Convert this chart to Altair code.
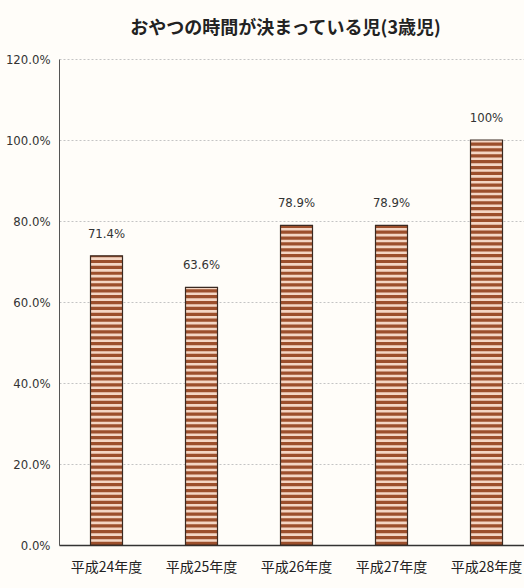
import altair as alt
import pandas as pd
import numpy as np

categories = ["平成24年度", "平成25年度", "平成26年度", "平成27年度", "平成28年度"]
values = [71.4, 63.6, 78.9, 78.9, 100.0]
labels = ["71.4%", "63.6%", "78.9%", "78.9%", "100%"]
y_ticks = [0, 20, 40, 60, 80, 100, 120]

df = pd.DataFrame({"cat": categories, "val": values, "lab": labels})

# horizontal stripe pattern inside each bar (derived from the values)
period = 1.45
dark = 0.8
rows = []
for c, v in zip(categories, values):
    starts = np.arange(0, v, period)
    for s in starts:
        rows.append({"cat": c, "y0": float(s), "y1": float(min(s + dark, v))})
stripes = pd.DataFrame(rows)

NUM = "Liberation Sans Narrow, DejaVu Sans Condensed, sans-serif"
CJK = "Noto Sans CJK JP"

xscale = alt.Scale(domain=categories, range=[0, 475], paddingInner=0, paddingOuter=0)
yscale = alt.Scale(domain=[0, 120], nice=False)

x_enc = alt.X("cat:N", scale=xscale, sort=categories, title=None,
              axis=alt.Axis(labelAngle=0, labelFont=CJK, labelFontSize=14,
                            labelColor="#222", labelPadding=15, ticks=False,
                            domainColor="#333", domainWidth=1.5, grid=False))

base = alt.Chart(df)

bg_bar = base.mark_bar(width=32, color="#f4d6c4").encode(
    x=x_enc,
    y=alt.Y("val:Q", scale=yscale, title=None,
            axis=alt.Axis(values=y_ticks, labelExpr="format(datum.value, '.1f') + '%'",
                          labelFont=NUM, labelFontSize=13, labelColor="#333",
                          labelPadding=9, ticks=False, domainColor="#555",
                          domainWidth=1, gridColor="#c4c4c4", gridDash=[2, 2],
                          gridWidth=1)),
)

stripe_bar = alt.Chart(stripes).mark_bar(width=32, color="#9c4f2c").encode(
    x=alt.X("cat:N", scale=xscale, sort=categories),
    y=alt.Y("y0:Q", scale=yscale),
    y2="y1:Q",
)

outline = base.mark_bar(width=32, fill=None, stroke="#3a2a22", strokeWidth=1.2).encode(
    x=alt.X("cat:N", scale=xscale, sort=categories),
    y=alt.Y("val:Q", scale=yscale),
)

text = base.mark_text(font=NUM, fontSize=13, color="#333", dy=-15,
                      baseline="bottom").encode(
    x=alt.X("cat:N", scale=xscale, sort=categories),
    y=alt.Y("val:Q", scale=yscale),
    text="lab:N",
)

chart = alt.layer(bg_bar, stripe_bar, outline, text).properties(
    width=465, height=486,
    autosize=alt.AutoSizeParams(type="none"),
    padding={"left": 59, "top": 59, "right": 0, "bottom": 43},
    background="#fffdf9",
    title=alt.TitleParams("おやつの時間が決まっている児(3歳児)", font=CJK,
                          fontSize=18, fontWeight="bold", color="#222",
                          anchor="middle", offset=15, dx=-6),
).configure_view(stroke=None)

chart.save("out.html", embed_options={"renderer": "svg", "actions": False})
